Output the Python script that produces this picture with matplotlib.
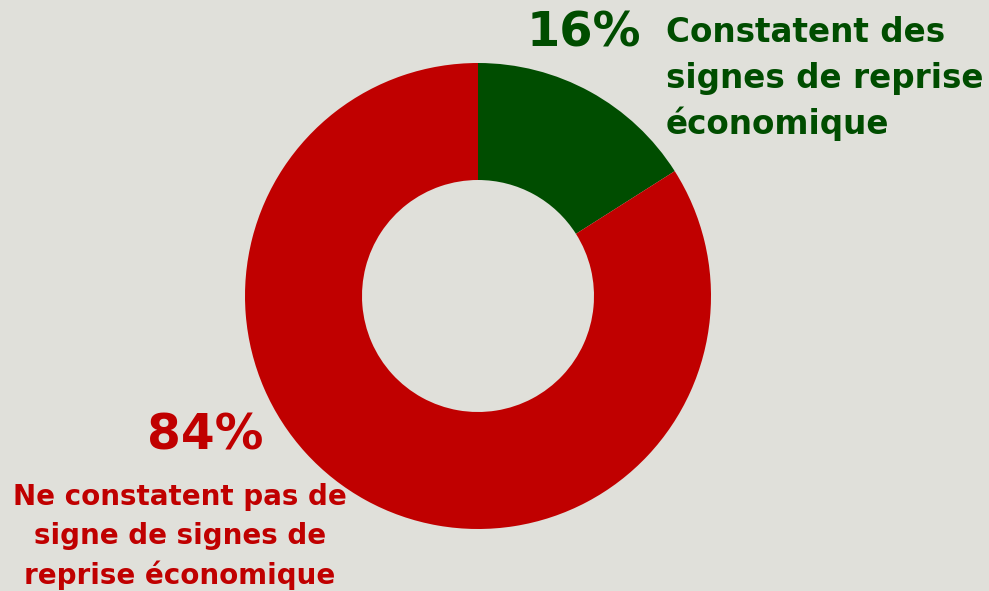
import matplotlib
matplotlib.use("Agg")
import matplotlib.pyplot as plt

# data
categories = ["Constatent des\nsignes de reprise\néconomique",
              "Ne constatent pas de\nsigne de signes de\nreprise économique"]
values = [16, 84]
pct_labels = ["16%", "84%"]
colors = ["#004D00", "#C00000"]
bg = "#E0E0DA"

W, H = 989, 591
fig = plt.figure(figsize=(W / 100, H / 100), dpi=100, facecolor=bg)
ax = fig.add_axes([0, 0, 1, 1])
ax.set_facecolor(bg)

cx, cy, R = 478, H - 296, 233
ax.pie(values, colors=colors, startangle=90, counterclock=False,
       center=(cx, cy), radius=R, frame=True,
       wedgeprops=dict(width=117, edgecolor="none"))
ax.set_xlim(0, W)
ax.set_ylim(0, H)
ax.set_aspect("equal")
ax.axis("off")

# green labels
ax.text(584, H - 33, pct_labels[0], color=colors[0], fontsize=34.5,
        fontweight="bold", ha="center", va="center", family="DejaVu Sans")
for i, line in enumerate(categories[0].split("\n")):
    ax.text(666, H - (33 + 45.5 * i), line, color=colors[0], fontsize=23.5,
            fontweight="bold", ha="left", va="center", family="DejaVu Sans")

# red labels
ax.text(205, H - 435, pct_labels[1], color=colors[1], fontsize=35,
        fontweight="bold", ha="center", va="center", family="DejaVu Sans")
for i, line in enumerate(categories[1].split("\n")):
    ax.text(180, H - (497 + 39 * i), line, color=colors[1], fontsize=20,
            fontweight="bold", ha="center", va="center", family="DejaVu Sans")

fig.savefig("out.png", dpi=100, facecolor=bg)
